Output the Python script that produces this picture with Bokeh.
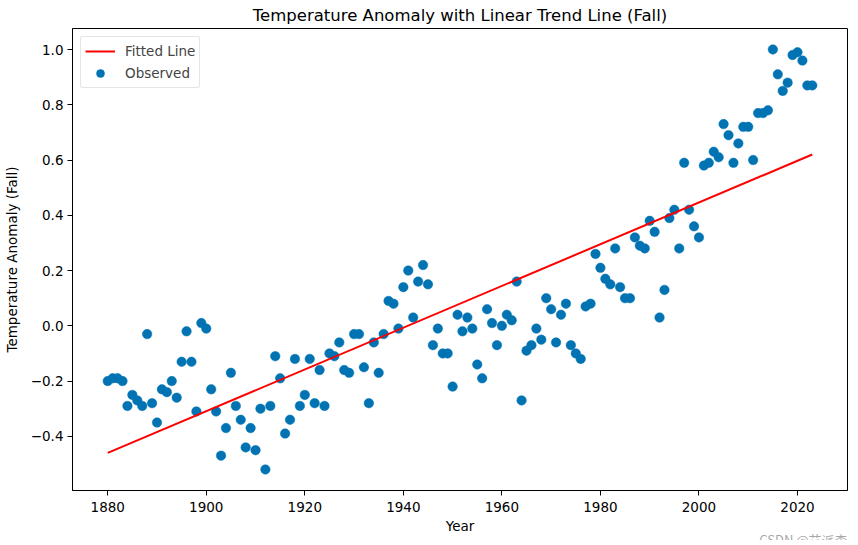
from bokeh.plotting import figure
from bokeh.models import Range1d, FixedTicker, Legend, LegendItem, Title
from bokeh.embed import file_html
from bokeh.resources import INLINE

years = list(range(1880, 2024))
anomaly = [
    -0.20, -0.19, -0.19, -0.20, -0.29, -0.25, -0.27, -0.29, -0.03, -0.28,
    -0.35, -0.23, -0.24, -0.20, -0.26, -0.13, -0.02, -0.13, -0.31, 0.01,
    -0.01, -0.23, -0.31, -0.47, -0.37, -0.17, -0.29, -0.34, -0.44, -0.37,
    -0.45, -0.30, -0.52, -0.29, -0.11, -0.19, -0.39, -0.34, -0.12, -0.29,
    -0.25, -0.12, -0.28, -0.16, -0.29, -0.10, -0.11, -0.06, -0.16, -0.17,
    -0.03, -0.03, -0.15, -0.28, -0.06, -0.17, -0.03, 0.09, 0.08, -0.01,
    0.14, 0.20, 0.03, 0.16, 0.22, 0.15, -0.07, -0.01, -0.10, -0.10,
    -0.22, 0.04, -0.02, 0.03, -0.01, -0.14, -0.19, 0.06, 0.01, -0.07,
    0.00, 0.04, 0.02, 0.16, -0.27, -0.09, -0.07, -0.01, -0.05, 0.10,
    0.06, -0.06, 0.04, 0.08, -0.07, -0.10, -0.12, 0.07, 0.08, 0.26,
    0.21, 0.17, 0.15, 0.28, 0.14, 0.10, 0.10, 0.32, 0.29, 0.28,
    0.38, 0.34, 0.03, 0.13, 0.39, 0.42, 0.28, 0.59, 0.42, 0.36,
    0.32, 0.58, 0.59, 0.63, 0.61, 0.73, 0.69, 0.59, 0.66, 0.72,
    0.72, 0.60, 0.77, 0.77, 0.78, 1.00, 0.91, 0.85, 0.88, 0.98,
    0.99, 0.96, 0.87, 0.87,
]
fit_years = [1880, 2023]
fit_values = [-0.46, 0.62]

x_ticks = [1880, 1900, 1920, 1940, 1960, 1980, 2000, 2020]
y_ticks = [-0.4, -0.2, 0.0, 0.2, 0.4, 0.6, 0.8, 1.0]
y_tick_labels = ["\u22120.4", "\u22120.2", "0.0", "0.2", "0.4", "0.6", "0.8", "1.0"]

FONT = "DejaVu Sans"
X0, X1 = 1872.85, 2030.15
Y0, Y1 = -0.596, 1.076

p = figure(frame_width=775, frame_height=462, output_backend="svg",
           toolbar_location=None,
           x_range=Range1d(X0, X1), y_range=Range1d(Y0, Y1),
           min_border_left=65, min_border_right=2, min_border_top=27,
           min_border_bottom=46,
           title="Temperature Anomaly with Linear Trend Line (Fall)")

p.title.text_font = FONT
p.title.text_font_size = "16.5px"
p.title.text_font_style = "normal"
p.title.text_color = "black"
p.title.align = "center"
p.title.standoff = 7

p.xgrid.visible = False
p.ygrid.visible = False
p.outline_line_color = "black"
p.outline_line_width = 1
p.outline_line_alpha = 1.0

for ax in (p.xaxis[0], p.yaxis[0]):
    ax.axis_line_color = "black"
    ax.major_tick_line_color = "black"
    ax.major_tick_out = 5
    ax.major_tick_in = 0
    ax.minor_tick_line_color = None
    ax.major_label_text_font = FONT
    ax.major_label_text_font_size = "13.5px"
    ax.major_label_text_color = "black"
    ax.axis_label_text_font = FONT
    ax.axis_label_text_font_size = "13.5px"
    ax.axis_label_text_font_style = "normal"
    ax.axis_label_text_color = "black"
    ax.major_label_standoff = 4

p.xaxis.major_label_standoff = 6
p.xaxis.ticker = FixedTicker(ticks=x_ticks)
p.yaxis.ticker = FixedTicker(ticks=y_ticks)
p.yaxis.major_label_overrides = {t: s for t, s in zip(y_ticks, y_tick_labels)}
p.xaxis.axis_label = "Year"
p.yaxis.axis_label = "Temperature Anomaly (Fall)"
p.xaxis.axis_label_standoff = 3
p.yaxis.axis_label_standoff = 8

sc = p.scatter(years, anomaly, size=9.5, marker="circle",
               fill_color="#0173B2", line_color="#0173B2", line_width=0.5)
ln = p.line(fit_years, fit_values, line_color="red", line_width=2)

legend = Legend(items=[LegendItem(label="Fitted Line", renderers=[ln]),
                       LegendItem(label="Observed", renderers=[sc])],
                location="top_left")
legend.label_text_font = FONT
legend.label_text_font_size = "13.5px"
legend.border_line_color = "#cccccc"
legend.border_line_width = 1
legend.border_radius = 3
legend.background_fill_alpha = 0.8
legend.margin = 8
legend.padding = 4
legend.spacing = 2
legend.glyph_width = 30
legend.glyph_height = 20
legend.label_standoff = 10
legend.label_height = 20
p.add_layout(legend)

wm = Title(text="CSDN @艾派森", align="right", text_font="Noto Sans CJK SC",
           text_font_size="13px", text_font_style="normal",
           text_color="#a8a8a8", standoff=-17, offset=0)
p.add_layout(wm, "below")

open("out.html", "w").write(file_html(p, INLINE))
